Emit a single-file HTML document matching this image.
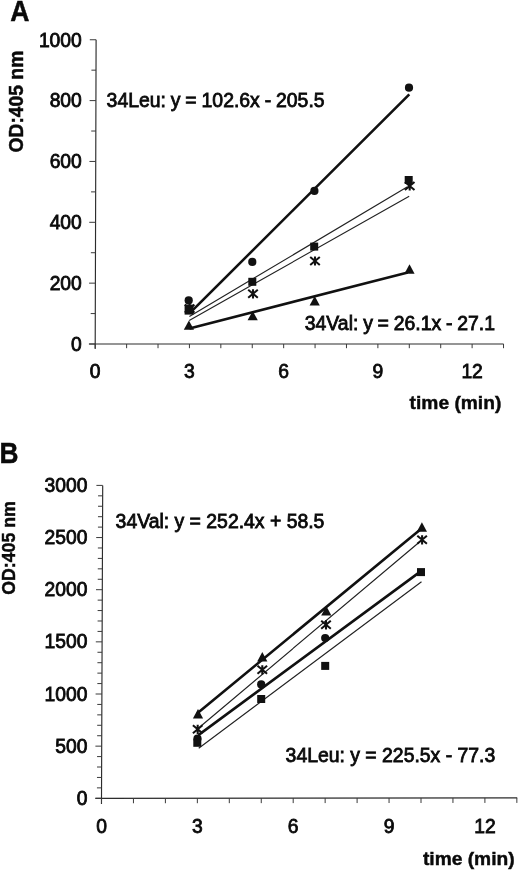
<!DOCTYPE html><html><head><meta charset="utf-8"><style>html,body{margin:0;padding:0;background:#fff}svg{display:block;will-change:transform}text{font-family:"Liberation Sans",sans-serif;fill:#0a0a0a;stroke:#0a0a0a;stroke-width:0.8px}text[font-weight=bold]{stroke-width:0.45px}</style></head><body>
<svg width="520" height="872" viewBox="0 0 520 872">
<rect width="520" height="872" fill="#fff"/>
<defs><filter id="bl" x="0" y="0" width="100%" height="100%" filterUnits="userSpaceOnUse" color-interpolation-filters="sRGB"><feGaussianBlur stdDeviation="0.38"/></filter></defs>
<g filter="url(#bl)">
<path d="M96.1 39.75L95.19 349M89.2 344L503.6 344" stroke="#2c2c2c" stroke-width="1.15" fill="none"/>
<path d="M88.9 344H95.2M90.69 313.57H95.29M89.08 283.15H95.38M90.87 252.72H95.47M89.26 222.3H95.56M91.05 191.88H95.65M89.44 161.45H95.74M91.23 131.02H95.83M89.62 100.6H95.92M91.41 70.17H96.01M89.8 39.75H96.1M95.2 344V348.2M126.61 344V348.2M158.02 344V348.2M189.43 344V348.2M220.84 344V348.2M252.25 344V348.2M283.66 344V348.2M315.07 344V348.2M346.48 344V348.2M377.89 344V348.2M409.3 344V348.2M440.71 344V348.2M472.12 344V348.2M503.53 344V348.2" stroke="#3a3a3a" stroke-width="1.0" fill="none"/>
<text x="81.8" y="350.8" font-size="19.3" text-anchor="end">0</text>
<text x="81.8" y="289.95" font-size="19.3" text-anchor="end">200</text>
<text x="81.8" y="229.1" font-size="19.3" text-anchor="end">400</text>
<text x="81.8" y="168.25" font-size="19.3" text-anchor="end">600</text>
<text x="81.8" y="107.4" font-size="19.3" text-anchor="end">800</text>
<text x="81.8" y="46.55" font-size="19.3" text-anchor="end">1000</text>
<text x="95.2" y="378.3" font-size="19.3" text-anchor="middle">0</text>
<text x="189.43" y="378.3" font-size="19.3" text-anchor="middle">3</text>
<text x="283.66" y="378.3" font-size="19.3" text-anchor="middle">6</text>
<text x="377.89" y="378.3" font-size="19.3" text-anchor="middle">9</text>
<text x="472.12" y="378.3" font-size="19.3" text-anchor="middle">12</text>
<text transform="translate(10.3,21) scale(0.91,1)" font-size="29.2" font-weight="bold">A</text>
<text transform="translate(23.4,152.5) rotate(-90)" font-size="19.3" font-weight="bold">OD:405 nm</text>
<text x="501.3" y="409.3" font-size="19.2" font-weight="bold" text-anchor="end">time (min)</text>
<text x="106.6" y="106.8" font-size="19.4" word-spacing="-0.5">34Leu: y = 102.6x - 205.5</text>
<text x="304.8" y="329.8" font-size="19.4" word-spacing="-0.6">34Val: y = 26.1x - 27.1</text>
<path d="M189.73 313.18L409.3 94.36M189.43 328.42L407.8 272.44" stroke="#111" stroke-width="2.6" fill="none"/>
<path d="M189.4 316.5L407.5 186.8M189.2 320.5L409.2 196.2" stroke="#222" stroke-width="1.15" fill="none"/>
<path d="M189.6 304V313.2M184.8 304.6L194.4 312.6M194.4 304.6L184.8 312.6" stroke="#111" stroke-width="2.05" fill="none"/>
<path d="M409.7 181.4V190.6M404.9 182L414.5 190M414.5 182L404.9 190" stroke="#111" stroke-width="2.05" fill="none"/>
<g fill="#111">
<circle cx="188.7" cy="300.4" r="4.1"/>
<circle cx="252.3" cy="261.9" r="4.1"/>
<circle cx="314.4" cy="190.9" r="4.1"/>
<circle cx="409" cy="87.7" r="4.1"/>
<rect x="184.6" y="304.6" width="8.9" height="10"/>
<rect x="248.3" y="277.8" width="8.0" height="8.0"/>
<rect x="310.2" y="242.6" width="8.0" height="8.0"/>
<rect x="404.7" y="176" width="8.0" height="8.0"/>
<path d="M188.9 320.4L194 329.8H183.8Z"/>
<path d="M252.7 310.9L257.8 320.3H247.6Z"/>
<path d="M314.7 296L319.8 305.4H309.6Z"/>
<path d="M409.5 264.3L414.6 273.7H404.4Z"/>
</g>
<path d="M253 289.2V298.4M248.2 289.8L257.8 297.8M257.8 289.8L248.2 297.8" stroke="#111" stroke-width="2.05" fill="none"/>
<path d="M315 256.4V265.6M310.2 257L319.8 265M319.8 257L310.2 265" stroke="#111" stroke-width="2.05" fill="none"/>
<path d="M102.7 485.4L101.48 804.1M95.5 798.3L517.2 797.9" stroke="#2c2c2c" stroke-width="1.15" fill="none"/>
<path d="M95.2 798.3H101.5M96.94 787.87H101.54M96.98 777.44H101.58M97.02 767.01H101.62M97.06 756.58H101.66M95.4 746.15H101.7M97.14 735.72H101.74M97.18 725.29H101.78M97.22 714.86H101.82M97.26 704.43H101.86M95.6 694H101.9M97.34 683.57H101.94M97.38 673.14H101.98M97.42 662.71H102.02M97.46 652.28H102.06M95.8 641.85H102.1M97.54 631.42H102.14M97.58 620.99H102.18M97.62 610.56H102.22M97.66 600.13H102.26M96 589.7H102.3M97.74 579.27H102.34M97.78 568.84H102.38M97.82 558.41H102.42M97.86 547.98H102.46M96.2 537.55H102.5M97.94 527.12H102.54M97.98 516.69H102.58M98.02 506.26H102.62M98.06 495.83H102.66M96.4 485.4H102.7M101.5 798.3V803.3M133.45 798.27V803.27M165.4 798.24V803.24M197.35 798.21V803.21M229.3 798.18V803.18M261.25 798.15V803.15M293.2 798.12V803.12M325.15 798.08V803.08M357.1 798.05V803.05M389.05 798.02V803.02M421 797.99V802.99M452.95 797.96V802.96M484.9 797.93V802.93M516.85 797.9V802.9" stroke="#3a3a3a" stroke-width="1.0" fill="none"/>
<text x="87.4" y="804.9" font-size="19.3" text-anchor="end">0</text>
<text x="87.4" y="752.75" font-size="19.3" text-anchor="end">500</text>
<text x="87.4" y="700.6" font-size="19.3" text-anchor="end">1000</text>
<text x="87.4" y="648.45" font-size="19.3" text-anchor="end">1500</text>
<text x="87.4" y="596.3" font-size="19.3" text-anchor="end">2000</text>
<text x="87.4" y="544.15" font-size="19.3" text-anchor="end">2500</text>
<text x="87.4" y="492" font-size="19.3" text-anchor="end">3000</text>
<text x="101.5" y="832.5" font-size="19.3" text-anchor="middle">0</text>
<text x="197.35" y="832.5" font-size="19.3" text-anchor="middle">3</text>
<text x="293.2" y="832.5" font-size="19.3" text-anchor="middle">6</text>
<text x="389.05" y="832.5" font-size="19.3" text-anchor="middle">9</text>
<text x="484.9" y="832.5" font-size="19.3" text-anchor="middle">12</text>
<text transform="translate(-0.5,462.6) scale(0.9,1)" font-size="29.2" font-weight="bold">B</text>
<text transform="translate(14.9,594.8) rotate(-90)" font-size="17.75" font-weight="bold">OD:405 nm</text>
<text x="514.6" y="864.6" font-size="19.2" font-weight="bold" text-anchor="end">time (min)</text>
<text x="115.6" y="528.4" font-size="19.4">34Val: y = 252.4x + 58.5</text>
<text x="285.6" y="761.7" font-size="19.4">34Leu: y = 225.5x - 77.3</text>
<path d="M197.35 713.22L421 528.95M198.35 735.1L421 571.17" stroke="#111" stroke-width="2.6" fill="none"/>
<path d="M199.5 727.2L419.2 542.3M198.7 748.3L421.5 581.7" stroke="#222" stroke-width="1.15" fill="none"/>
<g fill="#111">
<circle cx="197.5" cy="738.5" r="4.1"/>
<circle cx="261.2" cy="684.4" r="4.1"/>
<circle cx="325.2" cy="638" r="4.1"/>
<rect x="193.3" y="738.8" width="8.0" height="8.0"/>
<rect x="257.2" y="695" width="8.0" height="8.0"/>
<rect x="321.2" y="661.9" width="8.0" height="8.0"/>
<rect x="417" y="568.1" width="8.0" height="8.0"/>
<path d="M198 709.1L203.1 718.5H192.9Z"/>
<path d="M262.3 652L267.4 661.4H257.2Z"/>
<path d="M326.3 606.1L331.4 615.5H321.2Z"/>
<path d="M421.9 522.3L427 531.7H416.8Z"/>
</g>
<path d="M197.7 724.7V733.9M192.9 725.3L202.5 733.3M202.5 725.3L192.9 733.3" stroke="#111" stroke-width="2.05" fill="none"/>
<path d="M262.3 665.2V674.4M257.5 665.8L267.1 673.8M267.1 665.8L257.5 673.8" stroke="#111" stroke-width="2.05" fill="none"/>
<path d="M326 620.2V629.4M321.2 620.8L330.8 628.8M330.8 620.8L321.2 628.8" stroke="#111" stroke-width="2.05" fill="none"/>
<path d="M422.1 535.2V544.4M417.3 535.8L426.9 543.8M426.9 535.8L417.3 543.8" stroke="#111" stroke-width="2.05" fill="none"/>
</g>
</svg></body></html>
